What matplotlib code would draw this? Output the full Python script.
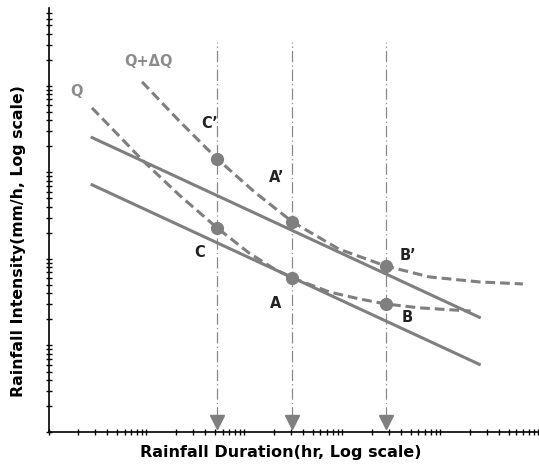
import numpy as np
import matplotlib
matplotlib.use("Agg")
import matplotlib.pyplot as plt
from matplotlib.ticker import LogLocator, NullFormatter

# ---- data (arbitrary log units) ----
# solid IDF lines
upper_x = [2.7, 26000]
upper_y = [2570, 20.8]
lower_x = [2.7, 26000]
lower_y = [731, 5.95]

# Q curve (dashed)
q_x = [2.78, 5.26, 9.03, 21.6, 52.9, 112, 203, 310, 741, 1500, 2775, 6180, 20500]
q_y = [5570, 2640, 1396, 549, 228, 117, 76.6, 60.3, 41.5, 34.5, 30.2, 27.2, 25.0]

# Q+dQ curve (dashed)
dq_x = [9.03, 21.6, 52.9, 127, 310, 925, 2775, 7820, 25400, 70100]
dq_y = [11120, 3940, 1432, 595, 268, 130, 83.0, 61.9, 54.2, 51.4]

# marked points
pt_names = ["A", "B", "C", "A\u2019", "B\u2019", "C\u2019"]
pt_x = [310, 2775, 52.9, 310, 2775, 52.9]
pt_y = [60.3, 30.2, 228, 268, 83.0, 1432]

# vertical guide durations
guide_x = [52.9, 310, 2775]

gray = "#7f7f7f"

fig = plt.figure(figsize=(5.39, 4.66), dpi=100)
ax = fig.add_axes([48.5 / 539, 34 / 466, 489.5 / 539, 424 / 466])
ax.set_xscale("log")
ax.set_yscale("log")
ax.set_xlim(1, 1e5)
ax.set_ylim(1, 10 ** 4.9)

# guide lines + arrows
for gx in guide_x:
    ax.plot([gx, gx], [1.45, 32300], color="#8a8a8a", lw=0.9,
            dashes=(9, 2.5, 1, 2.5))
    ax.plot([gx], [1.29], marker="v", ms=9.5, color=gray, clip_on=False)

ax.plot(upper_x, upper_y, color=gray, lw=2.2, solid_capstyle="butt")
ax.plot(lower_x, lower_y, color=gray, lw=2.2, solid_capstyle="butt")
ax.plot(q_x, q_y, color=gray, lw=2.2, dashes=(3.2, 1.6))
ax.plot(dq_x, dq_y, color=gray, lw=2.2, dashes=(3.2, 1.6))
ax.plot(pt_x, pt_y, "o", ms=8.5, color=gray, ls="none")

# point labels (pixel offsets)
offsets = {"A": (-17, -26), "B": (22, -14), "C": (-18, -25),
           "A\u2019": (-16, 44), "B\u2019": (22, 10), "C\u2019": (-8, 35)}
for name, x, y in zip(pt_names, pt_x, pt_y):
    dx, dy = offsets[name]
    ax.annotate(name, (x, y), xytext=(dx, dy), textcoords="offset pixels",
                ha="center", va="center", fontsize=10.5, fontweight="bold",
                color="#222222")

ax.annotate("Q", (q_x[0], q_y[0]), xytext=(-15, 16), textcoords="offset pixels",
            ha="center", va="center", fontsize=10.5, fontweight="bold", color="#8c8c8c")
ax.annotate("Q+\u0394Q", (dq_x[0], dq_y[0]), xytext=(6, 20), textcoords="offset pixels",
            ha="center", va="center", fontsize=10.5, fontweight="bold", color="#8c8c8c")

# axes styling
for s in ["top", "right"]:
    ax.spines[s].set_visible(False)
for s in ["left", "bottom"]:
    ax.spines[s].set_linewidth(1.2)
for axis in [ax.xaxis, ax.yaxis]:
    axis.set_major_locator(LogLocator(base=10, numticks=20))
    axis.set_minor_locator(LogLocator(base=10, subs=np.arange(2, 10), numticks=20))
    axis.set_major_formatter(NullFormatter())
    axis.set_minor_formatter(NullFormatter())
ax.tick_params(which="both", direction="inout", length=5, width=1, color="black")

fig.text(281 / 539, 1 - 453 / 466, "Rainfall Duration(hr, Log scale)",
         ha="center", va="center", fontsize=11.5, fontweight="bold")
fig.text(19 / 539, 1 - 241 / 466, "Rainfall Intensity(mm/h, Log scale)",
         ha="center", va="center", rotation=90, fontsize=11.3, fontweight="bold")

fig.savefig("out.png", dpi=100)
